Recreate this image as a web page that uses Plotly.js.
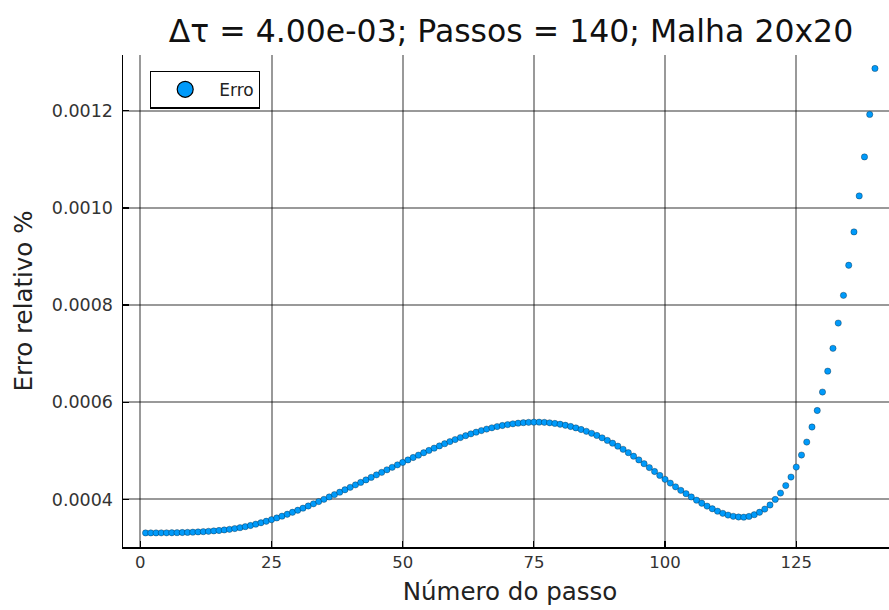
<!DOCTYPE html>
<html>
<head>
<meta charset="utf-8">
<script src="https://cdn.plot.ly/plotly-3.0.1.min.js"></script>
<style>
html, body { margin: 0; padding: 0; overflow: hidden; background: #fff; }
#chart { width: 900px; height: 610px; }
</style>
</head>
<body>
<div id="chart"></div>
<script>
// Relative error (%) for each time step
const erro = [
  3.310e-4, 3.310e-4, 3.310e-4, 3.311e-4, 3.312e-4, 3.313e-4, 3.315e-4, 3.318e-4, 3.321e-4, 3.325e-4,
  3.330e-4, 3.336e-4, 3.343e-4, 3.351e-4, 3.360e-4, 3.371e-4, 3.384e-4, 3.400e-4, 3.418e-4, 3.439e-4,
  3.463e-4, 3.490e-4, 3.519e-4, 3.550e-4, 3.583e-4, 3.618e-4, 3.655e-4, 3.694e-4, 3.735e-4, 3.777e-4,
  3.820e-4, 3.864e-4, 3.909e-4, 3.955e-4, 4.002e-4, 4.050e-4, 4.099e-4, 4.148e-4, 4.198e-4, 4.248e-4,
  4.299e-4, 4.350e-4, 4.401e-4, 4.453e-4, 4.505e-4, 4.557e-4, 4.609e-4, 4.660e-4, 4.711e-4, 4.762e-4,
  4.812e-4, 4.862e-4, 4.911e-4, 4.960e-4, 5.008e-4, 5.055e-4, 5.101e-4, 5.146e-4, 5.190e-4, 5.232e-4,
  5.273e-4, 5.312e-4, 5.349e-4, 5.384e-4, 5.417e-4, 5.447e-4, 5.474e-4, 5.499e-4, 5.521e-4, 5.540e-4,
  5.556e-4, 5.569e-4, 5.579e-4, 5.586e-4, 5.590e-4, 5.590e-4, 5.586e-4, 5.577e-4, 5.564e-4, 5.547e-4,
  5.526e-4, 5.501e-4, 5.472e-4, 5.439e-4, 5.402e-4, 5.361e-4, 5.316e-4, 5.267e-4, 5.214e-4, 5.157e-4,
  5.096e-4, 5.031e-4, 4.962e-4, 4.889e-4, 4.813e-4, 4.735e-4, 4.655e-4, 4.574e-4, 4.493e-4, 4.413e-4,
  4.335e-4, 4.259e-4, 4.186e-4, 4.118e-4, 4.050e-4, 3.984e-4, 3.921e-4, 3.862e-4, 3.807e-4, 3.757e-4,
  3.713e-4, 3.678e-4, 3.652e-4, 3.638e-4, 3.634e-4, 3.650e-4, 3.685e-4, 3.735e-4, 3.800e-4, 3.885e-4,
  4.000e-4, 4.130e-4, 4.285e-4, 4.460e-4, 4.665e-4, 4.913e-4, 5.180e-4, 5.490e-4, 5.830e-4, 6.210e-4,
  6.640e-4, 7.110e-4, 7.630e-4, 8.200e-4, 8.820e-4, 9.506e-4, 10.247e-4, 11.050e-4, 11.924e-4, 12.871e-4
];
const passos = erro.map((_, i) => i + 1);

const xTickVals = [0, 25, 50, 75, 100, 125];
const yTickVals = [0.0004, 0.0006, 0.0008, 0.0010, 0.0012];
const yTickText = ["0.0004", "0.0006", "0.0008", "0.0010", "0.0012"];

const seriesName = "Erro";
const titleText = "Δτ = 4.00e-03; Passos = 140; Malha 20x20";
const xTitle = "Número do passo";
const yTitle = "Erro relativo %";

const FONT = "DejaVu Sans, sans-serif";
const BLUE = "#009AFA";

const traces = [
  {
    x: passos, y: erro, type: "scatter", mode: "markers", name: seriesName,
    showlegend: false,
    marker: { size: 6.3, color: BLUE, line: { width: 0.6, color: "rgba(0,0,0,0.5)" } },
    cliponaxis: false
  },
  {
    x: [null], y: [null], type: "scatter", mode: "markers", name: seriesName,
    marker: { size: 16, color: BLUE, line: { width: 1.2, color: "#000" } }
  }
];

const gridColor = "rgba(0,0,0,0.40)";
const layout = {
  width: 900, height: 610,
  margin: { l: 123, r: 3, t: 55, b: 63 },
  paper_bgcolor: "#fff", plot_bgcolor: "#fff",
  font: { family: FONT, color: "#000" },
  title: {
    text: titleText, font: { family: FONT, size: 31.5, color: "#111" },
    xref: "container", x: 511 / 900, xanchor: "center",
    yref: "container", y: 1 - 31 / 610, yanchor: "middle"
  },
  xaxis: {
    range: [-3.3, 144.2], tickvals: xTickVals, ticktext: xTickVals.map(String),
    showgrid: true, gridcolor: gridColor, gridwidth: 2, zeroline: false,
    showline: true, linecolor: "#000", linewidth: 1.5, mirror: false,
    ticks: "inside", ticklen: 6, tickwidth: 1.2, tickcolor: "#000",
    tickfont: { family: FONT, size: 16.5, color: "#333" },
    title: { text: xTitle, font: { family: FONT, size: 24.5, color: "#222" }, standoff: 11 },
    automargin: false
  },
  yaxis: {
    range: [0.000302, 0.0013148], tickvals: yTickVals, ticktext: yTickText,
    showgrid: true, gridcolor: gridColor, gridwidth: 2, zeroline: false,
    showline: true, linecolor: "#000", linewidth: 1.5, mirror: false,
    ticks: "inside", ticklen: 6, tickwidth: 1.2, tickcolor: "#000",
    tickfont: { family: FONT, size: 17.5, color: "#333" },
    ticklabelstandoff: 5,
    title: { text: yTitle, font: { family: FONT, size: 24.5, color: "#222" }, standoff: 12 },
    automargin: false
  },
  legend: {
    x: (150 - 123) / 774, y: (546.7 - 71) / 491.2, xanchor: "left", yanchor: "top",
    bgcolor: "#fff", bordercolor: "#000", borderwidth: 1.2,
    font: { family: FONT, size: 17, color: "#222" },
    itemwidth: 58
  },
  showlegend: true
};

Plotly.newPlot("chart", traces, layout, { staticPlot: true, displayModeBar: false });
</script>
</body>
</html>
